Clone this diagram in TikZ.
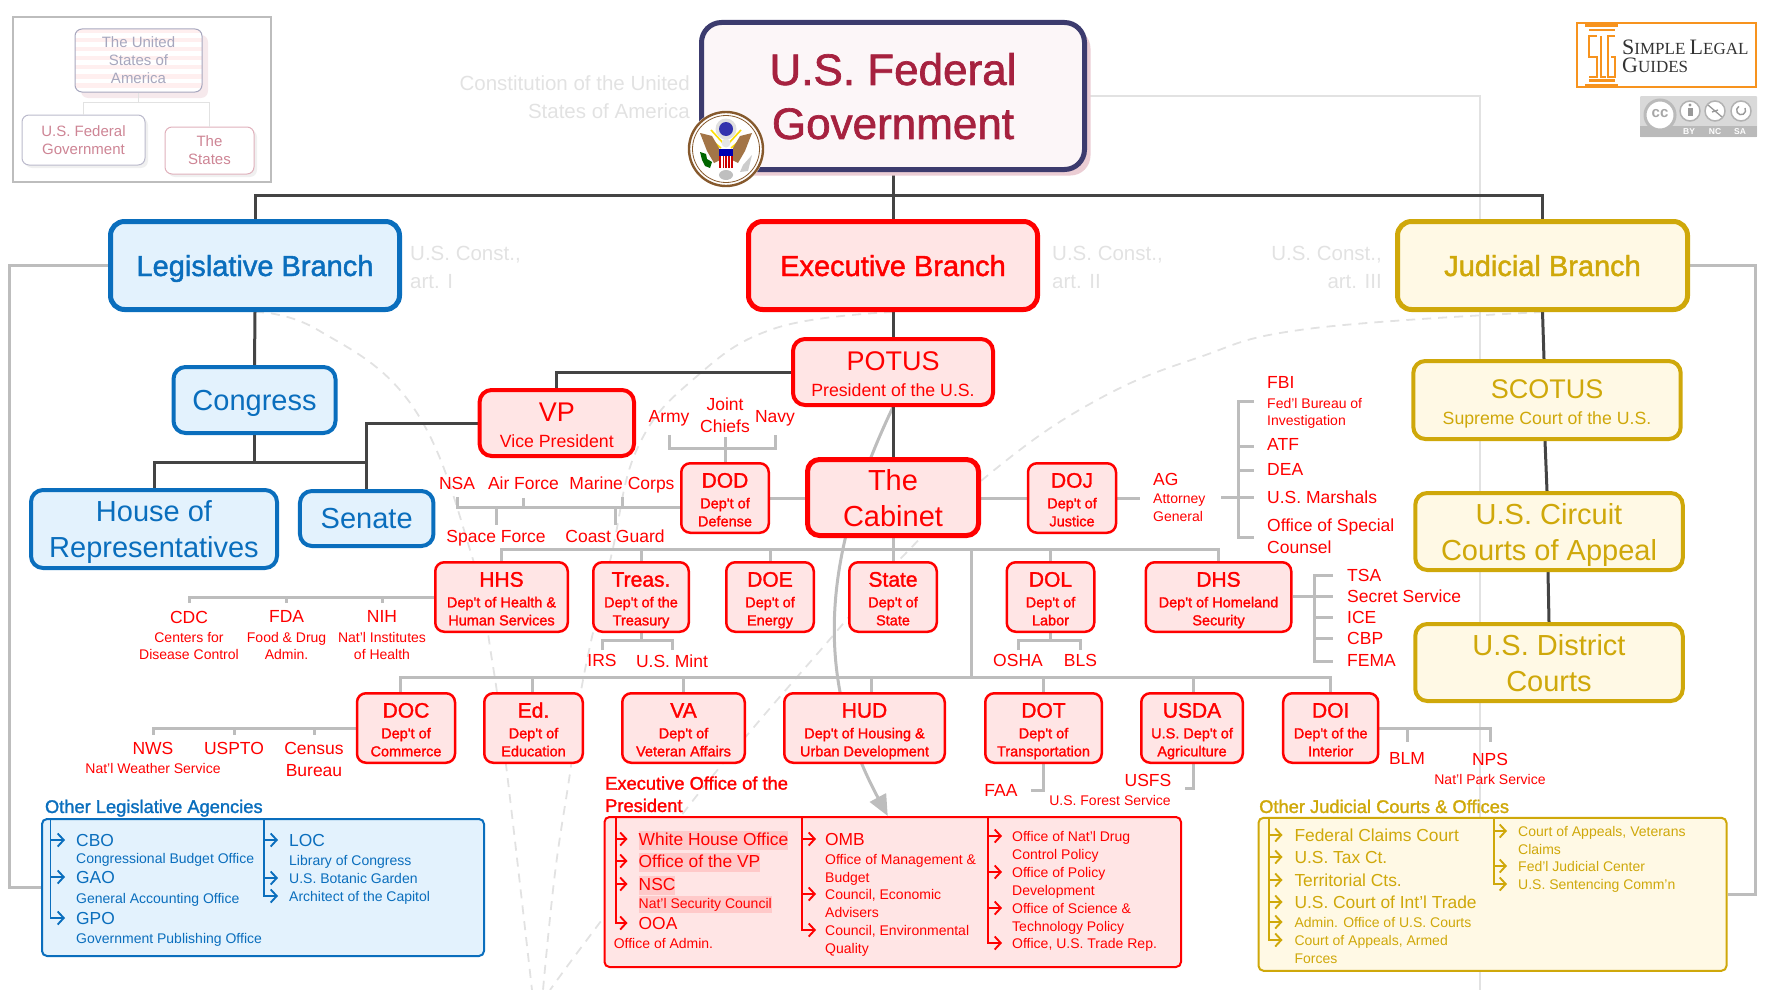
\documentclass[tikz,border=0pt]{standalone}
\usepackage{fontspec}
\setmainfont{Liberation Sans}
\newfontfamily\medfont[FakeBold=1.5]{Liberation Sans}
\newfontfamily\logofont{Liberation Serif}
\usetikzlibrary{arrows.meta,backgrounds,shadows}

\definecolor{navy}{HTML}{3C3B6E}
\definecolor{crimson}{HTML}{A6213F}
\definecolor{titlefill}{HTML}{FCF6F8}
\definecolor{titleshadow}{HTML}{EBCDD4}
\definecolor{legblue}{HTML}{0A6EBD}
\definecolor{legfill}{HTML}{E3F2FD}
\definecolor{exred}{HTML}{FF0000}
\definecolor{exfill}{HTML}{FFE5E5}
\definecolor{exhl}{HTML}{FFC9C9}
\definecolor{judgold}{HTML}{CFA80A}
\definecolor{judfill}{HTML}{FFF9E5}
\definecolor{trunkgrey}{HTML}{444444}
\definecolor{branchgrey}{HTML}{BDBDBD}
\definecolor{faintgrey}{HTML}{E2E2E2}
\definecolor{logoorange}{HTML}{F7931E}

\newcommand\nodrop[1]{\raisebox{0pt}[\height][0pt]{#1}}
\newcommand\officetext[2]{\rule{0pt}{23pt}{\fontsize{27}{27}\selectfont #1}\\\nodrop{#2}}
\newcommand\depttext[3]{\rule{0pt}{18pt}{\fontsize{21}{18}\selectfont #1}\\[2.7pt]#2\\\nodrop{#3}}
\newcommand\logoword[2]{{\fontsize{22}{18}\selectfont #1}#2}

\tikzset{
  legis/.style={draw=legblue,fill=legfill,text=legblue},
  exec/.style={draw=exred,fill=exfill,text=exred},
  judic/.style={draw=judgold,fill=judfill,text=judgold},
  govbox/.style={align=center,inner sep=0pt,line width=4pt,rounded corners=12pt,font=\fontsize{29}{36}\selectfont},
  branchbox/.style={govbox,line width=5pt,rounded corners=14pt,minimum width=289pt,minimum height=88pt,font=\medfont\fontsize{29}{36}\selectfont},
  officebox/.style={govbox,font=\fontsize{17.7}{25.7}\selectfont},
  dept/.style={exec,align=center,inner sep=0pt,line width=2.5pt,rounded corners=9pt,minimum height=69.5pt,font=\medfont\fontsize{14.5}{18}\selectfont},
  mapbox/.style={align=center,inner sep=0pt,line width=1pt,rounded corners=7pt,font=\fontsize{15}{18}\selectfont},
  panel/.style={line width=2pt,rounded corners=5pt},
  tag/.style={anchor=north,align=center,inner sep=0pt,yshift=6.3pt,text=exred,font=\fontsize{17.5}{22}\selectfont},
  subtag/.style={anchor=north,align=center,inner sep=0pt,yshift=5pt,text=exred,font=\fontsize{14}{17.5}\selectfont},
  lefttag/.style={tag,anchor=north west,align=left},
  leftsub/.style={subtag,anchor=north west,align=left},
  paneltag/.style={anchor=north west,align=left,inner sep=0pt,yshift=6.3pt,font=\fontsize{17.4}{22}\selectfont},
  panelsub/.style={anchor=north west,align=left,inner sep=0pt,yshift=5pt,font=\fontsize{14}{18}\selectfont},
  panelhead/.style={anchor=north west,align=left,inner sep=0pt,yshift=6.5pt,font=\medfont\fontsize{18.3}{22.3}\selectfont},
  hltag/.style={anchor=north west,inner sep=0pt,fill=exhl,text height=14pt,text depth=5pt,yshift=7.8pt,font=\fontsize{17.4}{22}\selectfont},
  hlsub/.style={anchor=north west,inner sep=0pt,fill=exhl,text height=12pt,text depth=4.5pt,yshift=7pt,font=\fontsize{14}{18}\selectfont},
  faint/.style={inner sep=0pt,text=faintgrey,yshift=7.4pt,font=\fontsize{20.5}{28}\selectfont},
  trunk/.style={draw=trunkgrey,line width=3pt},
  branch/.style={draw=branchgrey,line width=3pt},
  dashcurve/.style={draw=faintgrey,line width=1.8pt,dash pattern=on 9pt off 7pt},
  itemarrow/.style={{Straight Barb[length=6pt,width=13pt]}-,line width=1.9pt}
}

\begin{document}
\begin{tikzpicture}[x=1pt,y=-1pt]
\useasboundingbox (0,0) rectangle (1780,990);

% small map in the corner
\node[draw=branchgrey,line width=2pt,minimum width=258pt,minimum height=165pt] (mapframe) at (142,99.5) {};
\fill[titleshadow!45,rounded corners=7pt] (81,35) rectangle (208,98);
\begin{scope}
  \clip[rounded corners=7pt] (75,29) rectangle (202,92);
  \fill[white] (75,29) rectangle (202,92);
  \foreach \y in {29,38,...,92} \fill[exfill!60] (75,\y) rectangle (202,\y+4.5);
\end{scope}
\node[mapbox,draw=navy!45,text=navy!45,minimum width=127pt,minimum height=63pt] (usa) at (138.5,60.5) {The United\\States of\\America};
\node[mapbox,draw=navy!35,fill=white,text=crimson!55,minimum width=123pt,minimum height=50pt,drop shadow={shadow xshift=3pt,shadow yshift=-3pt,fill=black!6,opacity=1}] (mapfed) at (83.5,140) {U.S. Federal\\Government};
\node[mapbox,draw=crimson!35,fill=white,text=crimson!55,minimum width=89pt,minimum height=47pt,drop shadow={shadow xshift=3pt,shadow yshift=-3pt,fill=black!6,opacity=1}] (mapstates) at (209.5,150.5) {The\\States};
\coordinate (mapbus) at (138.5,102);
\draw[faintgrey,line width=1pt] (usa.south) -- (mapbus) (mapfed.north) |- (mapbus) (mapstates.north) |- (mapbus);

% top of the chart
\node[govbox,draw=navy,fill=titlefill,text=crimson,line width=5pt,rounded corners=20pt,minimum width=383pt,minimum height=147pt,font=\medfont\fontsize{44}{54}\selectfont,drop shadow={shadow xshift=6pt,shadow yshift=-6pt,fill=titleshadow,opacity=1}] (fedgov) at (893,96) {U.S. Federal\\\nodrop{Government}};
\node[faint,anchor=north east,align=right] (constitution) at (690,83) {Constitution of the United\\States of America};

\node[branchbox,legis] (leg) at (255,265.5) {\nodrop{Legislative Branch}};
\node[branchbox,exec] (execb) at (893,265.5) {\nodrop{Executive Branch}};
\node[branchbox,judic,minimum width=290pt] (jud) at (1542.5,265.5) {\nodrop{Judicial Branch}};
\node[faint,anchor=north west,align=left] (artone) at (410,253) {U.S. Const.,\\art. I};
\node[faint,anchor=north west,align=left] (arttwo) at (1052,253) {U.S. Const.,\\art. II};
\node[faint,anchor=north east,align=right] (artthree) at (1382,253) {U.S. Const.,\\art. III};

% congress
\node[govbox,legis,minimum width=162pt,minimum height=66pt] (congress) at (254.5,400) {\nodrop{Congress}};
\node[govbox,legis,minimum width=246pt,minimum height=78pt] (house) at (154,529) {House of\\\nodrop{Representatives}};
\node[govbox,legis,minimum width=133.5pt,minimum height=55pt] (senate) at (366.7,518.5) {\nodrop{Senate}};

% president and cabinet
\node[govbox,exec,officebox,minimum width=200pt,minimum height=66pt] (potus) at (893,372) {\officetext{POTUS}{President of the U.S.}};
\node[govbox,exec,officebox,minimum width=154.4pt,minimum height=66pt] (vp) at (556.8,423) {\officetext{VP}{Vice President}};
\node[govbox,exec,line width=5pt,minimum width=171pt,minimum height=76pt] (cabinet) at (893,497.5) {The\\\nodrop{Cabinet}};
\node[dept,minimum width=87.5pt] (dod) at (725,498) {\depttext{DOD}{Dep't of}{Defense}};
\node[dept,minimum width=88pt] (doj) at (1072,498) {\depttext{DOJ}{Dep't of}{Justice}};

\foreach \nm/\x/\w/\abbr/\suba/\subb in {hhs/501.5/132.5/HHS/Dep't of Health \&/Human Services,
    treas/641/95.5/Treas./Dep't of the/Treasury, doe/770/87.5/DOE/Dep't of/Energy, state/893/87.5/State/Dep't of/State,
    dol/1050.5/87.5/DOL/Dep't of/Labor, dhs/1218.5/145.5/DHS/Dep't of Homeland/Security}
  \node[dept,minimum width=\w pt] (\nm) at (\x,597) {\depttext{\abbr}{\suba}{\subb}};

\foreach \nm/\x/\w/\abbr/\suba/\subb in {doc/406/98/DOC/Dep't of/Commerce, ed/533.5/98.5/Ed./Dep't of/Education,
    va/683.5/122.5/VA/Dep't of/Veteran Affairs, hud/864.5/160.5/HUD/Dep't of Housing \&/Urban Development,
    dot/1043.5/116.5/DOT/Dep't of/Transportation, usda/1192/101.5/USDA/U.S. Dep't of/Agriculture,
    doi/1330.7/95/DOI/Dep't of the/Interior}
  \node[dept,minimum width=\w pt] (\nm) at (\x,728) {\depttext{\abbr}{\suba}{\subb}};

% courts
\node[govbox,judic,officebox,minimum width=267.4pt,minimum height=78pt] (scotus) at (1547,400) {\officetext{SCOTUS}{Supreme Court of the U.S.}};
\node[govbox,judic,minimum width=267.5pt,minimum height=77pt] (circuit) at (1549,531.5) {U.S. Circuit\\\nodrop{Courts of Appeal}};
\node[govbox,judic,minimum width=267.5pt,minimum height=77pt] (district) at (1549,662.5) {U.S. District\\\nodrop{Courts}};

% agencies hanging off the departments
\foreach \nm/\x/\y/\txt in {army/669/417/Army, joint/725/404/Joint\\Chiefs, navy/775/417/Navy,
    nsa/457/483/NSA, airforce/523.5/483/Air Force, marines/622/483/Marine Corps,
    spaceforce/496/536/Space Force, coastguard/615/536/Coast Guard,
    irs/602/660.6/IRS, mint/672/660.6/U.S. Mint, osha/1018/660.6/OSHA, bls/1080.5/660.6/BLS,
    cdc/189/617/CDC, fda/286.6/617/FDA, nih/382/617/NIH,
    nws/153/748/NWS, uspto/234/748/USPTO, census/314/748/Census\\Bureau,
    faa/1001/791/FAA, usfs/1148/780/USFS, blm/1407/759/BLM, nps/1490/759/NPS}
  \node[tag] (\nm) at (\x,\y) {\txt};
\foreach \nm/\x/\y/\txt in {cdcfull/189/637/Centers for\\Disease Control, fdafull/286.6/637/Food \& Drug\\Admin.,
    nihfull/382/637/Nat'l Institutes\\of Health, nwsfull/153/768/Nat'l Weather Service,
    usfsfull/1110/800/U.S. Forest Service, npsfull/1490/779/Nat'l Park Service}
  \node[subtag] (\nm) at (\x,\y) {\txt};
\foreach \nm/\x/\y/\txt in {ag/1153/479/AG, fbi/1267/383/FBI, atf/1267/445/ATF, dea/1267/470/DEA,
    marshals/1267/497/U.S. Marshals, counsel/1267/525/Office of Special\\Counsel,
    tsa/1347/575/TSA, secret/1347/596/Secret Service, ice/1347/617/ICE, cbp/1347/638/CBP, fema/1347/661/FEMA}
  \node[lefttag] (\nm) at (\x,\y) {\txt};
\node[leftsub] (agfull) at (1153,499) {Attorney\\General};
\node[leftsub] (fbifull) at (1267,403) {Fed'l Bureau of\\Investigation};

% other legislative agencies
\begin{scope}[nodes={text=legblue}]
  \node[panelhead] (leghead) at (44.8,806) {Other Legislative Agencies};
  \node[panel,draw=legblue,fill=legfill,minimum width=442pt,minimum height=137pt] (legpanel) at (263,887.5) {};
  \foreach \nm/\x/\y/\txt in {cbo/76/840/CBO, gao/76/877/GAO, gpo/76/918/GPO, loc/289/840/LOC}
    \node[paneltag] (\nm) at (\x,\y) {\txt};
  \foreach \nm/\x/\y/\txt in {cbofull/76/858/Congressional Budget Office, gaofull/76/898/General Accounting Office,
      gpofull/76/938/Government Publishing Office, locfull/289/860/Library of Congress,
      botanic/289/878/U.S. Botanic Garden, capitol/289/896/Architect of the Capitol}
    \node[panelsub] (\nm) at (\x,\y) {\txt};
\end{scope}
\coordinate (legstemA) at (50.5,819);
\coordinate (legstemB) at (264,819);
\foreach \t/\dy in {cbo/6.3,gao/6.3,gpo/6.3}
  \draw[itemarrow,legblue] ([xshift=-11pt,yshift=-\dy pt]\t.north west) -| (legstemA);
\foreach \t/\dy in {loc/6.3,botanic/5,capitol/5}
  \draw[itemarrow,legblue] ([xshift=-11pt,yshift=-\dy pt]\t.north west) -| (legstemB);

% executive office of the president
\begin{scope}[nodes={text=exred}]
  \node[panelhead] (eophead) at (605,782.7) {Executive Office of the\\President};
  \node[panel,draw=exred,fill=exfill,minimum width=576.5pt,minimum height=150pt] (eop) at (892.75,892) {};
  \node[hltag] (whitehouse) at (638.5,839) {White House Office};
  \node[hltag] (vpoffice) at (638.5,861) {Office of the VP};
  \node[hltag] (nsc) at (638.5,884) {NSC};
  \node[hlsub] (nscfull) at (638.5,903) {Nat'l Security Council};
  \node[paneltag] (ooa) at (638.5,923) {OOA};
  \node[panelsub] (admin) at (613.6,943) {Office of Admin.};
  \node[paneltag] (omb) at (825,839) {OMB};
  \node[panelsub] (ombfull) at (825,859) {Office of Management \&\\Budget};
  \node[panelsub] (economic) at (825,894) {Council, Economic\\Advisers};
  \node[panelsub] (environ) at (825,930) {Council, Environmental\\Quality};
  \node[panelsub] (drug) at (1012,836) {Office of Nat'l Drug\\Control Policy};
  \node[panelsub] (policy) at (1012,872) {Office of Policy\\Development};
  \node[panelsub] (science) at (1012,908) {Office of Science \&\\Technology Policy};
  \node[panelsub] (trade) at (1012,943) {Office, U.S. Trade Rep.};
\end{scope}
\coordinate (eopstemA) at (615.6,817);
\coordinate (eopstemB) at (802,817);
\coordinate (eopstemC) at (988,817);
\foreach \t/\dy in {whitehouse/7.8,vpoffice/7.8,nsc/7.8,ooa/6.3}
  \draw[itemarrow,exred] ([xshift=-11pt,yshift=-\dy pt]\t.north west) -| (eopstemA);
\foreach \t/\dy in {omb/6.3,economic/5,environ/5}
  \draw[itemarrow,exred] ([xshift=-9pt,yshift=-\dy pt]\t.north west) -| (eopstemB);
\foreach \t/\dy in {drug/5,policy/5,science/5,trade/5}
  \draw[itemarrow,exred] ([xshift=-10pt,yshift=-\dy pt]\t.north west) -| (eopstemC);

% other judicial courts
\begin{scope}[nodes={text=judgold}]
  \node[panelhead] (judhead) at (1259,806) {Other Judicial Courts \& Offices};
  \node[panel,draw=judgold,fill=judfill,minimum width=468pt,minimum height=153pt] (judpanel) at (1492.5,894.3) {};
  \foreach \nm/\y/\txt in {claims/835/Federal Claims Court, tax/857/U.S. Tax Ct., territorial/880/Territorial Cts., intl/902/U.S. Court of Int'l Trade}
    \node[paneltag] (\nm) at (1294.3,\y) {\txt};
  \node[panelsub] (adminct) at (1294.3,922) {Admin. Office of U.S. Courts};
  \node[panelsub] (armed) at (1294.3,940) {Court of Appeals, Armed\\Forces};
  \node[panelsub] (veterans) at (1518,831) {Court of Appeals, Veterans\\Claims};
  \node[panelsub] (fjc) at (1518,866) {Fed'l Judicial Center};
  \node[panelsub] (sentencing) at (1518,884) {U.S. Sentencing Comm'n};
\end{scope}
\coordinate (judstemA) at (1269,818);
\coordinate (judstemB) at (1494,818);
\foreach \t/\dy in {claims/6.3,tax/6.3,territorial/6.3,intl/6.3,adminct/5,armed/5}
  \draw[itemarrow,judgold] ([xshift=-11.8pt,yshift=-\dy pt]\t.north west) -| (judstemA);
\foreach \t/\dy in {veterans/5,fjc/5,sentencing/5}
  \draw[itemarrow,judgold] ([xshift=-11pt,yshift=-\dy pt]\t.north west) -| (judstemB);

% seal
\begin{scope}[shift={(726,149)}]
  \fill[white] (0,0) circle (38.5);
  \draw[brown!70!black,line width=2.4pt] (0,0) circle (37);
  \draw[brown!70!black,line width=.8pt] (0,0) circle (33.5);
  \draw[yellow!80!orange,line width=1.6pt] (-3,-6) -- (-15,-19) (3,-6) -- (15,-19) (-5,-1) -- (-16,-10) (5,-1) -- (16,-10);
  \fill[black!12] (0,-20) circle (10.5);
  \fill[blue!60!black!80] (0,-20) circle (7);
  \fill[brown!80!black!90] (-26,-16) -- (-14,-13) -- (-7,-1) -- (-6,11) -- (-12,14) -- (-19,2) -- cycle;
  \fill[brown!80!black!90] (26,-16) -- (14,-13) -- (7,-1) -- (6,11) -- (12,14) -- (19,2) -- cycle;
  \fill[black!10] (0,-6) circle (4.5);
  \fill[exred!80!black] (-7,1) rectangle (7,19);
  \foreach \x in {-4.2,-1.4,1.4,4.2} \fill[white] (\x-.7,7) rectangle (\x+.7,19);
  \fill[blue!70!black] (-7,0) rectangle (7,7);
  \fill[green!40!black] (-26,3) -- (-20,5) -- (-19,10) -- (-14,13) -- (-16,19) -- (-21,17) -- (-24,11) -- cycle;
  \fill[black!25] (0,26) ellipse (7 and 5);
  \fill[black!20] (26,6) -- (17,16) -- (14,23) -- (22,22) -- cycle;
\end{scope}

% logo
\node[draw=logoorange,line width=1.8pt,minimum width=179pt,minimum height=64pt] (logo) at (1666.5,55) {};
\draw[logoorange,line width=2.2pt] (1585,25.5) -- (1618,25.5) (1589,30) -- (1615,30) (1589,80.5) -- (1615,80.5) (1585,85) -- (1618,85);
\draw[logoorange,line width=1.5pt] (1597,36) -- (1589,36) -- (1589,57) -- (1597,57) -- (1597,77) -- (1589,77)
    (1601,36) -- (1601,77) -- (1606,77)
    (1615,36) -- (1608,36) -- (1608,77) -- (1615,77) -- (1615,57) -- (1611,57);
\node[anchor=north west,inner sep=0pt,text=black!80,font=\logofont\fontsize{17}{18}\selectfont] (logoline) at (1622,39.7) {\logoword{S}{IMPLE} \logoword{L}{EGAL}};
\node[anchor=north west,inner sep=0pt,text=black!80,font=\logofont\fontsize{17}{18}\selectfont] (logolinetwo) at (1622,57.7) {\logoword{G}{UIDES}};

% licence badge
\fill[black!15,rounded corners=1pt] (1640,96) rectangle (1757,137);
\fill[black!27] (1640,126) rectangle (1757,137);
\draw[black!27,fill=white,line width=3pt] (1660,115) circle (15);
\foreach \x in {1690,1715,1741} \draw[black!30,fill=white,line width=1.5pt] (\x,111) circle (10);
\node[inner sep=0pt,text=black!35,font=\bfseries\fontsize{15}{15}\selectfont] (ccmark) at (1660,114) {cc};
\foreach \nm/\x/\txt in {ccby/1689/BY,ccnc/1715/NC,ccsa/1740/SA}
  \node[inner sep=0pt,text=white,font=\bfseries\fontsize{8.5}{9}\selectfont] (\nm) at (\x,131.5) {\txt};
\fill[black!40] (1690,105) circle (1.6);
\fill[black!40] (1687.5,108) rectangle (1692.5,116);
\draw[black!40,line width=1.3pt] (1708,105) -- (1722,117) (1712,112) -- (1718,110);
\draw[black!40,line width=1.4pt] (1745,108) arc (-30:240:4.5);

\begin{scope}[on background layer]
  \draw[faintgrey,line width=2.4pt] (fedgov.east) -| (1480,990);
  \draw[dashcurve] plot[smooth,tension=0.7] coordinates
      {(255,312) (318,330) (413,407) (471,553) (492,660) (507,773) (532,990)};
  \draw[dashcurve] plot[smooth,tension=0.7] coordinates
      {(893,312) (776,328) (696,377) (638,447) (611,557) (583,680) (570,773) (555,873) (543,990)};
  \draw[dashcurve] plot[smooth,tension=0.7] coordinates
      {(1543,312) (1307,329) (1197,358) (1097,400) (998,467) (906,553) (818,653) (754,727) (691,803) (592,933) (550,990)};
  % grey arrow from the president to his office
  \draw[branch,-{Triangle[length=21pt,width=18pt]}] (potus.south) .. controls (820,560) and (815,680) .. ([xshift=-5pt]eop.north);
  % grey ties to the side panels
  \draw[branch] (leg.west) -- ++(-99,0) |- (legpanel.west);
  \draw[branch] (jud.east) -- ++(65,0) |- (judpanel.east);
  % black trunk
  \coordinate (bustop) at (893,195.6);
  \draw[trunk] (fedgov.south) -- (execb.north);
  \draw[trunk] (leg.north) |- (bustop) -| (jud.north);
  \draw[trunk] (leg.south) -- (congress.north);
  \coordinate (buscongress) at (254.5,462.7);
  \draw[trunk] (congress.south) -- (buscongress);
  \draw[trunk] (house.north) |- (buscongress);
  \draw[trunk] (senate.north) |- (buscongress);
  \draw[trunk] (vp.west) -| (senate.north);
  \draw[trunk] (potus.west) -| (vp.north);
  \draw[trunk] (execb.south) -- (potus.north);
  \draw[trunk] (potus.south) -- (cabinet.north);
  \draw[trunk] (jud.south) -- ([xshift=-3pt]scotus.north);
  \draw[trunk] ([xshift=-2pt]scotus.south) -- ([xshift=-2pt]circuit.north);
  \draw[trunk] ([xshift=-1pt]circuit.south) -- (district.north);
  % cabinet rows
  \coordinate (busA) at (893,549.3);
  \coordinate (busB) at (971,677.3);
  \draw[branch] (cabinet.south) -- (state.north);
  \foreach \nm in {hhs,treas,doe,dol,dhs} \draw[branch] (\nm.north) |- (busA);
  \draw[branch] (busA -| busB) -- (busB);
  \foreach \nm/\dx in {doc/-5.3,ed/-1.5,va/0,hud/6.5,dot/0,usda/1.7,doi/0}
    \draw[branch] ([xshift=\dx pt]\nm.north) |- (busB);
  \draw[branch] (dod.east) -- (cabinet.west |- dod.east);
  \draw[branch] (doj.west) -- (cabinet.east |- doj.west);
  % defense
  \coordinate (busdod) at (725,448);
  \coordinate (busdodleft) at ([yshift=-9pt]dod.west);
  \draw[branch] (dod.north) -- ([yshift=-4pt]joint.south);
  \draw[branch] ([yshift=-8pt]army.south) |- (busdod) -| ([yshift=-8pt]navy.south);
  \draw[branch] (busdodleft) -| ([yshift=-8pt]nsa.south);
  \draw[branch] ([yshift=-8pt]airforce.south) -- (airforce.south |- busdodleft);
  \draw[branch] ([yshift=-4pt]marines.south) -- (marines.south |- busdodleft);
  \draw[branch] ([yshift=5pt]spaceforce.north) -- (spaceforce.north |- busdodleft);
  \draw[branch] ([yshift=5pt]coastguard.north) -- (coastguard.north |- busdodleft);
  % justice
  \coordinate (dojag) at (1139.6,498);
  \coordinate (dojstub) at (1221,497);
  \draw[branch] (doj.east) -- (dojag);
  \draw[branch] (dojstub) -- (1238,497);
  \draw[branch] (1254,401) -| (1238,537) -- (1254,537);
  \foreach \y in {446,470,497} \draw[branch] (1238,\y) -- (1254,\y);
  % homeland security
  \draw[branch] (dhs.east |- 0,596) -- (1333,596);
  \draw[branch] (1333,575) -| (1314,661) -- (1333,661);
  \foreach \y in {617,638} \draw[branch] (1314,\y) -- (1333,\y);
  % health
  \draw[branch] (hhs.west) -| ([yshift=8pt]cdc.north);
  \foreach \t in {fda,nih} \draw[branch] ([yshift=8pt]\t.north) -- (\t.north |- hhs.west);
  % treasury and labor
  \coordinate (bustreas) at (641,640.7);
  \coordinate (buslabor) at (1050.5,640.7);
  \draw[branch] (treas.south) -- (bustreas);
  \draw[branch] ([yshift=4pt]irs.north) |- (bustreas) -| ([yshift=4pt]mint.north);
  \draw[branch] (dol.south) -- (buslabor);
  \draw[branch] ([yshift=4pt]osha.north) |- (buslabor) -| ([yshift=4pt]bls.north);
  % commerce
  \draw[branch] (doc.west) -| ([yshift=7pt]nws.north);
  \foreach \t in {uspto,census} \draw[branch] ([yshift=7pt]\t.north) -- (\t.north |- doc.west);
  % transportation, agriculture, interior
  \draw[branch] (dot.south) |- ([xshift=13pt]faa.east);
  \draw[branch] ([xshift=1.7pt]usda.south) |- (1185,788);
  \draw[branch] (doi.east) -| ([yshift=11pt]nps.north);
  \draw[branch] ([yshift=11pt]blm.north) -- (blm.north |- doi.east);
\end{scope}
\end{tikzpicture}
\end{document}
